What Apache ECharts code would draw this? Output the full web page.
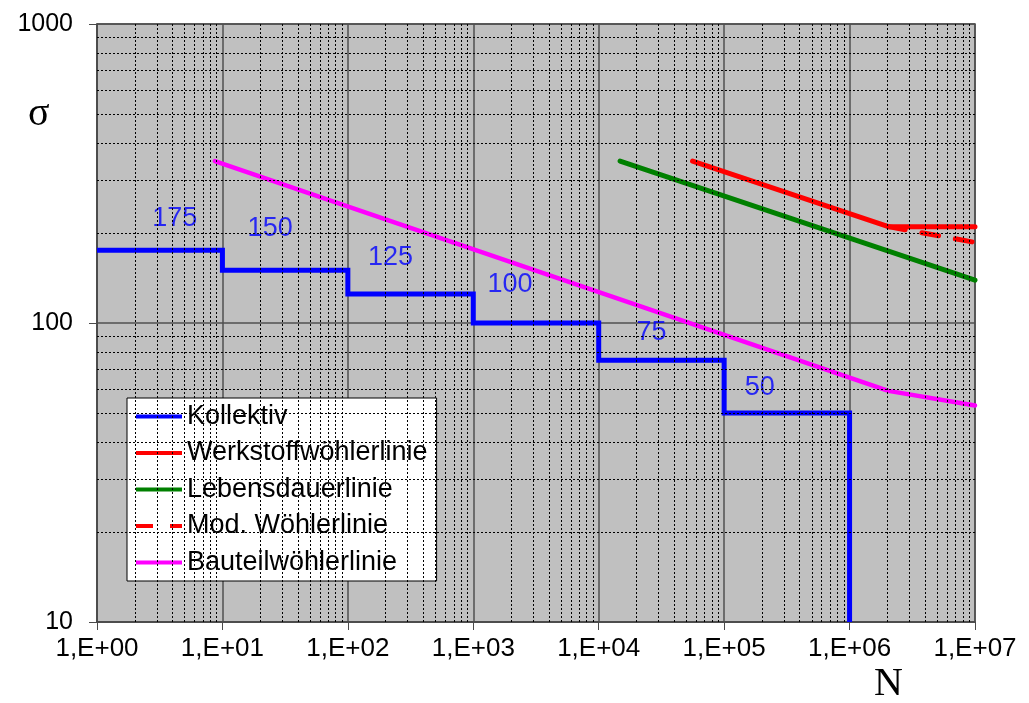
<!DOCTYPE html>
<html>
<head>
<meta charset="utf-8">
<script src="https://cdn.jsdelivr.net/npm/echarts@6/dist/echarts.min.js"></script>
<style>
  html, body { margin: 0; padding: 0; background: #fff; }
  #chart { width: 1029px; height: 703px; }
</style>
</head>
<body>
<div id="chart"></div>
<script>
// Load spectrum (Kollektiv): step boundaries in N and stress level per step
const collectiveBounds = [1, 10, 100, 1e3, 1e4, 1e5, 1e6];
const collectiveLevels = [175, 150, 125, 100, 75, 50];
const collectiveEnd = 10;

// Material S-N curve (Werkstoffwöhlerlinie)
const materialN = [5.6e4, 2.04e6, 1e7];
const materialS = [348, 210, 210];

// Lifetime line (Lebensdauerlinie)
const lifeN = [1.48e4, 1e7];
const lifeS = [348, 139];

// Modified S-N curve (Mod. Wöhlerlinie) beyond the knee point
const modN = [2.04e6, 1e7];
const modS = [210, 186];

// Component S-N curve (Bauteilwöhlerlinie)
const componentN = [8.7, 2.04e6, 1e7];
const componentS = [348, 59.3, 53];

const seriesNames = ['Kollektiv', 'Werkstoffwöhlerlinie', 'Lebensdauerlinie', 'Mod. Wöhlerlinie', 'Bauteilwöhlerlinie'];

// Build the stepped spectrum polyline
const collectivePts = [];
collectiveLevels.forEach((s, i) => {
  collectivePts.push([collectiveBounds[i], s]);
  collectivePts.push([collectiveBounds[i + 1], s]);
});
collectivePts.push([collectiveBounds[collectiveBounds.length - 1], collectiveEnd]);

const zip = (xs, ys) => xs.map((x, i) => [x, ys[i]]);

// Step value labels sit above the middle of each step (pixel nudges per label)
const labelNudge = [[15, -32], [-15, -42], [-20, -36], [-26, -38], [-10, -28], [-27, -25]];
const stepLabels = collectiveLevels.map((s, i) => ({
  value: [Math.sqrt(collectiveBounds[i] * collectiveBounds[i + 1]), s],
  label: { offset: labelNudge[i] }
}));

// Minor grid lines at 2..9 of every decade
const minorX = [];
for (let e = 0; e < 7; e++) for (let m = 2; m <= 9; m++) minorX.push(m * Math.pow(10, e));
const minorY = [];
for (let e = 1; e < 3; e++) for (let m = 2; m <= 9; m++) minorY.push(m * Math.pow(10, e));

const sansFont = '"Liberation Sans", Arial, sans-serif';
const serifFont = '"Liberation Serif", "Times New Roman", serif';

// Legend keys: a plain bar, or two dashes for the modified curve
const solidKey = 'path://M0,0h46v4h-46z';
const dashedKey = 'path://M0,0h17v4h-17z M34,0h12v4h-12z';
const legendColors = ['#0000ff', '#ff0000', '#008000', '#ff0000', '#ff00ff'];

const lineBase = { type: 'line', symbol: 'none', showSymbol: false, animation: false, z: 3 };

const chart = echarts.init(document.getElementById('chart'), null, { renderer: 'canvas' });
chart.setOption({
  animation: false,
  backgroundColor: '#fff',
  grid: {
    left: 97, right: 54, top: 24, bottom: 81,
    show: true, backgroundColor: '#c0c0c0', borderColor: '#4a4a4a', borderWidth: 1.5
  },
  xAxis: {
    type: 'log', logBase: 10, min: 1, max: 1e7,
    axisLine: { show: true, lineStyle: { color: '#4a4a4a', width: 1.5 } },
    axisTick: { show: true, length: 8, lineStyle: { color: '#4a4a4a', width: 1 } },
    splitLine: { show: true, lineStyle: { color: '#505050', width: 1.5 } },
    minorTick: { show: false },
    axisLabel: {
      color: '#000', fontFamily: sansFont, fontSize: 26, margin: 14,
      formatter: v => {
        const e = Math.round(Math.log10(v));
        return '1,E+' + String(e).padStart(2, '0');
      }
    }
  },
  yAxis: {
    type: 'log', logBase: 10, min: 10, max: 1000,
    axisLine: { show: true, lineStyle: { color: '#4a4a4a', width: 1.5 } },
    axisTick: { show: true, length: 8, lineStyle: { color: '#4a4a4a', width: 1 } },
    splitLine: { show: true, lineStyle: { color: '#505050', width: 1.5 } },
    axisLabel: {
      color: '#000', fontFamily: sansFont, fontSize: 25, margin: 24,
      formatter: v => String(Math.round(v))
    }
  },
  legend: {
    orient: 'vertical',
    left: 127, top: 398,
    padding: [5, 9, 5, 9],
    backgroundColor: '#fff',
    borderColor: '#000', borderWidth: 1,
    itemWidth: 46, itemHeight: 4, itemGap: 9.5,
    textStyle: { color: '#000', fontFamily: sansFont, fontSize: 27, lineHeight: 27 },
    data: seriesNames.map((n, i) => ({
      name: n,
      icon: n === 'Mod. Wöhlerlinie' ? dashedKey : solidKey,
      itemStyle: { color: legendColors[i], borderWidth: 0 }
    }))
  },
  graphic: [
    { type: 'text', left: 28, top: 94, style: { text: 'σ', font: '40px ' + serifFont, fill: '#000' } },
    { type: 'text', left: 874, top: 664, style: { text: 'N', font: '40px ' + serifFont, fill: '#000' } }
  ],
  series: [
    {
      // dotted minor grid
      type: 'line', data: [], silent: true, z: 1, animation: false,
      markLine: {
        silent: true, symbol: ['none', 'none'], animation: false,
        label: { show: false },
        lineStyle: { color: '#000', width: 1, type: [2, 2] },
        data: minorX.map(v => ({ xAxis: v })).concat(minorY.map(v => ({ yAxis: v })))
      }
    },
    Object.assign({}, lineBase, {
      name: 'Kollektiv', data: collectivePts, color: '#0000ff',
      lineStyle: { color: '#0000ff', width: 5, join: 'miter', cap: 'butt' }
    }),
    Object.assign({}, lineBase, {
      name: 'Werkstoffwöhlerlinie', data: zip(materialN, materialS), color: '#ff0000',
      lineStyle: { color: '#ff0000', width: 5, cap: 'round' }
    }),
    Object.assign({}, lineBase, {
      name: 'Lebensdauerlinie', data: zip(lifeN, lifeS), color: '#008000',
      lineStyle: { color: '#008000', width: 5, cap: 'round' }
    }),
    Object.assign({}, lineBase, {
      name: 'Mod. Wöhlerlinie', data: zip(modN, modS), color: '#ff0000',
      lineStyle: { color: '#ff0000', width: 5, type: [17, 17], cap: 'round' }
    }),
    Object.assign({}, lineBase, {
      name: 'Bauteilwöhlerlinie', data: zip(componentN, componentS), color: '#ff00ff',
      lineStyle: { color: '#ff00ff', width: 4.5, cap: 'round' }
    }),
    {
      type: 'scatter', data: stepLabels, symbolSize: 0, silent: true, z: 4, animation: false,
      label: {
        show: true, position: 'inside', color: '#0000ff', fontFamily: sansFont, fontSize: 27,
        align: 'center', verticalAlign: 'middle',
        formatter: p => String(p.value[1])
      }
    }
  ]
});
</script>
</body>
</html>
